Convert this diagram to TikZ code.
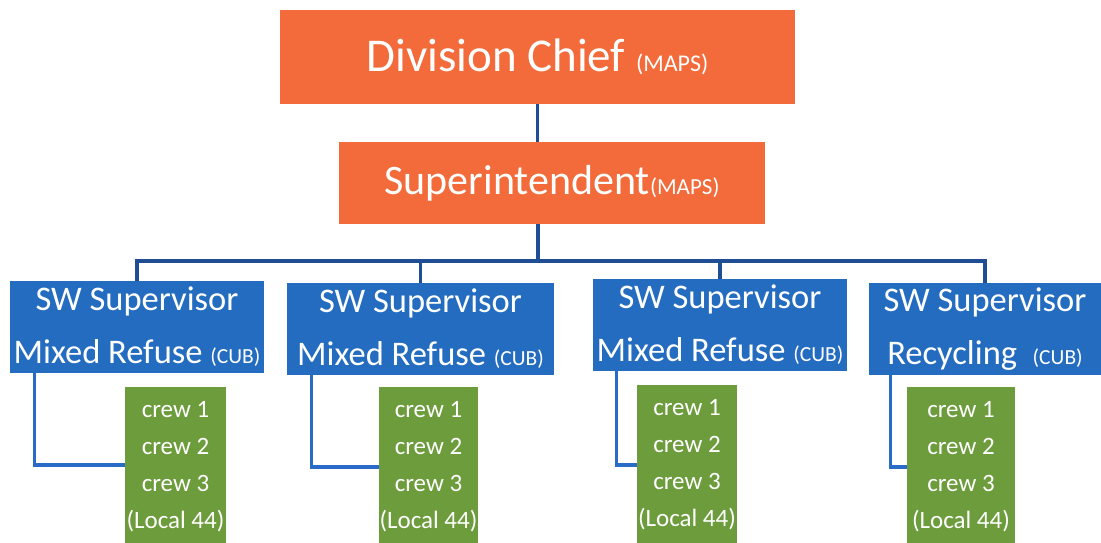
\documentclass[tikz,border=0pt]{standalone}
\usepackage{fontspec}
\setmainfont{Carlito}
\definecolor{orgfill}{RGB}{243,107,58}
\definecolor{supfill}{RGB}{36,108,192}
\definecolor{crewfill}{RGB}{108,156,60}
\definecolor{busline}{RGB}{32,78,148}
\definecolor{elbowline}{RGB}{40,108,200}
\tikzset{
  orgbox/.style={fill=orgfill, draw=none, text=white, inner sep=0pt, align=center},
  supbox/.style={fill=supfill, draw=none, text=white, inner sep=0pt, align=center,
                 font=\fontsize{34.5}{53}\selectfont},
  crewbox/.style={fill=crewfill, draw=none, text=white, inner sep=0pt, align=center,
                 font=\fontsize{25}{37}\selectfont},
  conn/.style={draw=busline, line width=3.2pt},
  elbow/.style={draw=elbowline, line width=3.2pt},
}
\newcommand{\smallpar}[2]{{\fontsize{#1}{#1}\selectfont #2}}
\begin{document}
\begin{tikzpicture}[x=1pt,y=-1pt]
\useasboundingbox (0,0) rectangle (1101,542);
\fill[white] (0,0) rectangle (1101,542);
% top boxes
\node[orgbox, minimum width=515pt, minimum height=94pt, font=\fontsize{47}{47}\selectfont]
  (chief) at (537.5,57) {Division Chief \smallpar{24}{(MAPS)}};
\node[orgbox, minimum width=426pt, minimum height=82pt, font=\fontsize{42}{42}\selectfont]
  (sup) at (552,183) {Superintendent\smallpar{23}{(MAPS)}};
% supervisors
\node[supbox, minimum width=254pt, minimum height=92pt] (s1) at (137,327)
  {SW Supervisor\\Mixed Refuse \smallpar{21.5}{(CUB)}};
\node[supbox, minimum width=267pt, minimum height=92pt] (s2) at (420.5,329)
  {SW Supervisor\\Mixed Refuse \smallpar{21.5}{(CUB)}};
\node[supbox, minimum width=254pt, minimum height=92pt] (s3) at (720,325)
  {SW Supervisor\\Mixed Refuse \smallpar{21.5}{(CUB)}};
\node[supbox, minimum width=232pt, minimum height=92pt] (s4) at (985,329)
  {SW Supervisor\\Recycling\ \ \smallpar{21.5}{(CUB)}};
% crews
\node[crewbox, minimum width=101pt, minimum height=160pt] (g1) at (175.5,467)
  {crew 1\\crew 2\\crew 3\\(Local 44)};
\node[crewbox, minimum width=99pt, minimum height=160pt] (g2) at (428.5,467)
  {crew 1\\crew 2\\crew 3\\(Local 44)};
\node[crewbox, minimum width=100pt, minimum height=160pt] (g3) at (687,465)
  {crew 1\\crew 2\\crew 3\\(Local 44)};
\node[crewbox, minimum width=108pt, minimum height=160pt] (g4) at (961,467)
  {crew 1\\crew 2\\crew 3\\(Local 44)};
% connectors
\coordinate (bus) at (538,261);
\draw[conn] (chief.south) -- (chief.south |- sup.north);
\draw[conn] (bus |- sup.south) -- (bus);
\draw[conn] (s1.north) -- (s1.north |- bus) -- (s4.north |- bus) -- (s4.north);
\draw[conn] (s2.north) -- (s2.north |- bus);
\draw[conn] (s3.north) -- (s3.north |- bus);
\draw[elbow] ([xshift=25pt]s1.south west) |- ([yshift=2pt]g1.west);
\draw[elbow] ([xshift=25pt]s2.south west) |- ([yshift=0pt]g2.west);
\draw[elbow] ([xshift=24pt]s3.south west) |- ([yshift=0pt]g3.west);
\draw[elbow] ([xshift=22pt]s4.south west) |- ([yshift=0pt]g4.west);
\end{tikzpicture}
\end{document}
